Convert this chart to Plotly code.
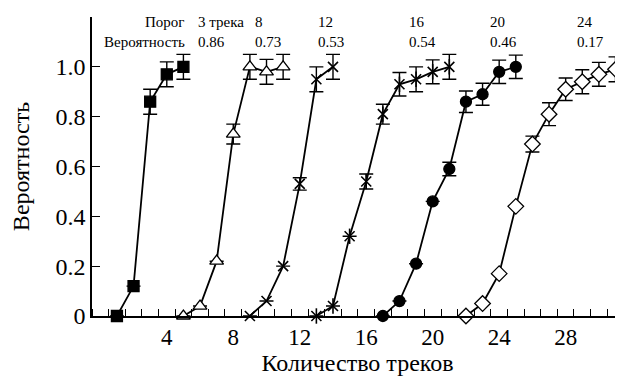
import plotly.graph_objects as go

# ---- data ----
sq_x = [1, 2, 3, 4, 5]
sq_y = [0, 0.12, 0.86, 0.97, 1.0]
sq_e = [0, 0, 0.05, 0.05, 0.05]

tri_x = [5, 6, 7, 8, 9, 10, 11]
tri_y = [0, 0.04, 0.22, 0.73, 1.0, 0.98, 1.0]
tri_e = [0, 0, 0, 0.04, 0.05, 0.05, 0.05]

crs_x = [9, 10, 11, 12, 13, 14]
crs_y = [0, 0.06, 0.2, 0.53, 0.95, 1.0]
crs_e = [0, 0, 0, 0.025, 0.05, 0.05]

ast_x = [13, 14, 15, 16, 17, 18, 19, 20, 21]
ast_y = [0, 0.04, 0.32, 0.54, 0.81, 0.93, 0.95, 0.98, 1.0]
ast_e = [0, 0, 0, 0.03, 0.04, 0.047, 0.05, 0.048, 0.05]

cir_x = [17, 18, 19, 20, 21, 22, 23, 24, 25]
cir_y = [0, 0.06, 0.21, 0.46, 0.59, 0.86, 0.89, 0.98, 1.0]
cir_e = [0, 0, 0, 0, 0.027, 0.043, 0.044, 0.047, 0.047]

dia_x = [22, 23, 24, 25, 26, 27, 28, 29, 30, 31]
dia_y = [0, 0.05, 0.17, 0.44, 0.69, 0.81, 0.91, 0.94, 0.97, 0.99]
dia_e = [0, 0, 0, 0, 0.032, 0.046, 0.045, 0.048, 0.048, 0.05]

thresholds = [3, 8, 12, 16, 20, 24]
threshold_probs = [0.86, 0.73, 0.53, 0.54, 0.46, 0.17]

x_ticks = [4, 8, 12, 16, 20, 24, 28]
y_ticks = [0, 0.2, 0.4, 0.6, 0.8, 1.0, 1.2]
y_ticktext = ["0", "0.2", "0.4", "0.6", "0.8", "1.0", ""]

# ---- styling / layout ----
FONT = "Liberation Serif"
LW = 1.8
ERR = dict(type="data", color="black", thickness=1.4, width=7)

fig = go.Figure()

def add_series(x, y, e, symbol, size, fill, lw=1.3):
    fig.add_trace(go.Scatter(
        x=x, y=y, mode="lines+markers",
        line=dict(color="black", width=LW),
        marker=dict(symbol=symbol, size=size, color=fill,
                    line=dict(color="black", width=lw)),
        error_y=dict(array=e, **ERR),
        cliponaxis=False, showlegend=False,
    ))

add_series(sq_x, sq_y, sq_e, "square", 11, "black")
add_series(tri_x, tri_y, tri_e, "triangle-up", 12, "white")
add_series(crs_x, crs_y, crs_e, "x-thin", 10, "black", 1.6)
add_series(ast_x, ast_y, ast_e, "x-thin", 10, "black", 1.6)
fig.add_trace(go.Scatter(
    x=ast_x, y=ast_y, mode="markers",
    marker=dict(symbol="line-ns", size=11, color="black",
                line=dict(color="black", width=1.6)),
    cliponaxis=False, showlegend=False,
))
add_series(cir_x, cir_y, cir_e, "circle", 11, "black")
add_series(dia_x, dia_y, dia_e, "diamond", 12, "white")

# header annotations
label_x = 5.23
col_x = [5.77, 9.19, 13.0, 18.43, 23.3, 28.55]
row1_y, row2_y = 1.181, 1.10
ann_font = dict(family=FONT, size=15, color="black")
fig.add_annotation(x=label_x, y=row1_y, text="Порог", showarrow=False,
                   xanchor="right", yanchor="middle", font=ann_font)
fig.add_annotation(x=label_x, y=row2_y, text="Вероятность", showarrow=False,
                   xanchor="right", yanchor="middle", font=ann_font)
for i, (t, p) in enumerate(zip(thresholds, threshold_probs)):
    txt = f"{t} трека" if i == 0 else str(t)
    fig.add_annotation(x=col_x[i], y=row1_y, text=txt, showarrow=False,
                       xanchor="left", yanchor="middle", font=ann_font)
    fig.add_annotation(x=col_x[i], y=row2_y, text=f"{p:.2f}", showarrow=False,
                       xanchor="left", yanchor="middle", font=ann_font)

# the page body adds an 8px offset, so the figure is sized to fill the rest
fig.update_layout(
    width=615, height=368,
    margin=dict(l=84, r=0, t=9, b=60),
    plot_bgcolor="white", paper_bgcolor="white",
    font=dict(family=FONT, size=22, color="black"),
)
fig.update_xaxes(
    range=[-0.5, 31.45], showgrid=False, zeroline=False, automargin=False,
    showline=True, linecolor="black", linewidth=1.5,
    tickmode="array", tickvals=x_ticks, ticks="",
    tickfont=dict(family=FONT, size=23),
    minor=dict(tickmode="linear", tick0=0.5, dtick=1, ticks="inside",
               ticklen=7, tickcolor="black", tickwidth=1.2, showgrid=False),
    title=dict(text="Количество треков", font=dict(family=FONT, size=24), standoff=3),
)
fig.update_yaxes(
    range=[0, 1.2], showgrid=False, zeroline=False, automargin=False,
    showline=True, linecolor="black", linewidth=1.5,
    tickmode="array", tickvals=y_ticks, ticktext=y_ticktext,
    ticks="inside", ticklen=8, tickcolor="black", tickwidth=1.3,
    tickfont=dict(family=FONT, size=24),
    title=dict(text="Вероятность", font=dict(family=FONT, size=24), standoff=21),
)

fig.write_html("out.html")
